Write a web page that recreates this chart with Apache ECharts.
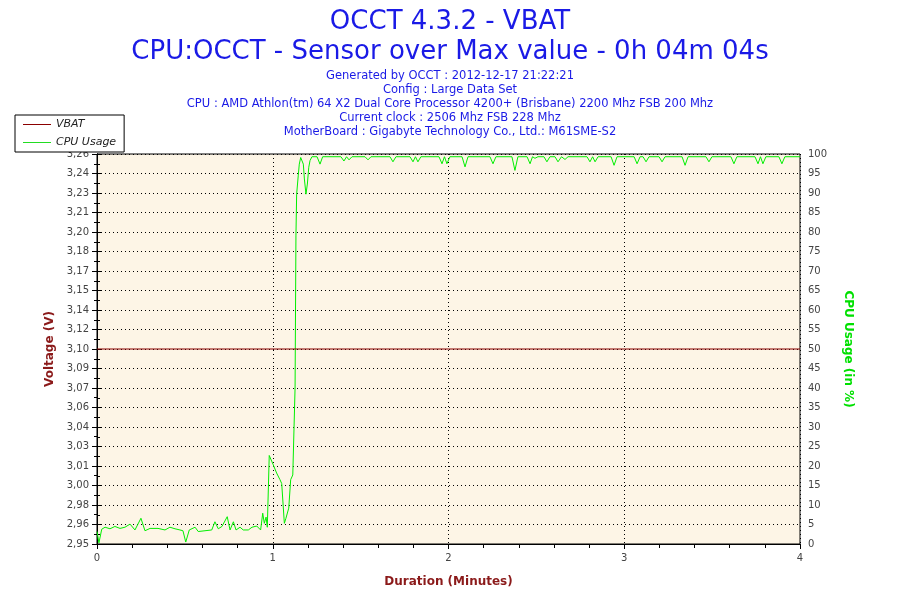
<!DOCTYPE html>
<html>
<head>
<meta charset="utf-8">
<title>OCCT 4.3.2 - VBAT</title>
<script src="https://cdn.jsdelivr.net/npm/echarts@6.0.0/dist/echarts.min.js"></script>
<style>
  html, body { margin: 0; padding: 0; background: #fff; }
  #chart { width: 900px; height: 600px; }
</style>
</head>
<body>
<div id="chart"></div>
<script>
'use strict';

// VBAT reading (constant over the run), axis spans VBAT -5% .. +5%
var vbatTime = [0, 4];
var vbatValue = [3.104, 3.104];
var voltMin = 2.9488;
var voltMax = 3.2592;

// CPU usage, time in minutes
var cpuTime = [
    0.000, 0.011, 0.027, 0.046, 0.074, 0.102, 0.131, 0.159, 0.188, 0.216,
    0.250, 0.273, 0.302, 0.347, 0.387, 0.415, 0.444, 0.472, 0.489, 0.505,
    0.525, 0.558, 0.576, 0.586, 0.653, 0.671, 0.690, 0.711, 0.741, 0.757,
    0.776, 0.791, 0.814, 0.832, 0.861, 0.882, 0.909, 0.931, 0.943, 0.952,
    0.962, 0.969, 0.980, 1.003, 1.022, 1.041, 1.051, 1.066, 1.075, 1.091,
    1.102, 1.114, 1.127, 1.132, 1.136, 1.145, 1.151, 1.159, 1.166, 1.174,
    1.180, 1.189, 1.197, 1.205, 1.212, 1.223, 1.252, 1.269, 1.284,
    1.388, 1.405, 1.420, 1.434, 1.451,
    1.525, 1.542, 1.559,
    1.667, 1.684, 1.701,
    1.781, 1.798, 1.812, 1.826, 1.843,
    1.946, 1.963, 1.977, 1.991, 2.008,
    2.077, 2.094, 2.111,
    2.236, 2.253, 2.270,
    2.361, 2.378, 2.395,
    2.447, 2.464, 2.478, 2.492, 2.509,
    2.543, 2.560, 2.577,
    2.606, 2.623, 2.643, 2.663, 2.680,
    2.788, 2.805, 2.820, 2.834, 2.851,
    2.925, 2.942, 2.959,
    3.056, 3.073, 3.090, 3.107, 3.124, 3.141,
    3.198, 3.215, 3.232,
    3.329, 3.346, 3.363,
    3.465, 3.482, 3.499,
    3.607, 3.624, 3.641,
    3.744, 3.761, 3.775, 3.789, 3.806,
    3.880, 3.897, 3.914,
    4.000
];
var cpuUsage = [
    3.2, 0.3, 3.8, 4.3, 3.9, 4.5, 4.0, 4.3, 5.1, 3.6,
    6.6, 3.4, 4.0, 4.0, 3.6, 4.3, 3.9, 3.6, 3.4, 0.5,
    3.6, 4.3, 3.2, 3.6, 3.6, 5.7, 3.9, 4.5, 7.0, 3.6,
    5.7, 3.6, 4.3, 3.6, 3.6, 4.3, 4.6, 3.6, 7.9, 5.3,
    6.9, 4.3, 22.7, 20.3, 18.2, 16.5, 15.5, 5.3, 6.6, 9.2,
    16.5, 17.7, 40.0, 79.0, 89.7, 94.4, 97.4, 99.1, 99.3, 97.4,
    93.6, 89.7, 92.3, 96.6, 98.3, 99.3, 99.3, 97.4, 99.3,
    99.3, 98.2, 99.3, 98.5, 99.3,
    99.3, 98.5, 99.3,
    99.3, 98.0, 99.3,
    99.3, 98.0, 99.3, 98.0, 99.3,
    99.3, 97.5, 99.3, 97.5, 99.3,
    99.3, 96.7, 99.3,
    99.3, 97.5, 99.3,
    99.3, 95.8, 99.3,
    99.3, 97.5, 99.3, 98.9, 99.3,
    99.3, 98.0, 99.3,
    99.3, 98.0, 99.3, 98.6, 99.3,
    99.3, 98.0, 99.3, 98.0, 99.3,
    99.3, 97.1, 99.3,
    99.3, 97.5, 99.3, 99.3, 98.0, 99.3,
    99.3, 98.0, 99.3,
    99.3, 97.1, 99.3,
    99.3, 98.0, 99.3,
    99.3, 97.5, 99.3,
    99.3, 97.5, 99.3, 97.5, 99.3,
    99.3, 97.5, 99.3,
    99.3
];

var titleLines = [
    'Generated by OCCT : 2012-12-17 21:22:21',
    'Config : Large Data Set',
    'CPU : AMD Athlon(tm) 64 X2 Dual Core Processor 4200+ (Brisbane) 2200 Mhz FSB 200 Mhz',
    'Current clock : 2506 Mhz FSB 228 Mhz',
    'MotherBoard : Gigabyte Technology Co., Ltd.: M61SME-S2'
];

(function () {
    var FONT = 'DejaVu Sans';
    var BLUE = '#1a1ae6';
    var chart = echarts.init(document.getElementById('chart'));

    function zip(xs, ys) {
        var out = [];
        for (var i = 0; i < xs.length; i++) out.push([xs[i], ys[i]]);
        return out;
    }

    var dotted = { color: '#000', width: 1, type: [1, 3] };

    var titles = [
        { text: 'OCCT 4.3.2 - VBAT', left: 'center', top: 4,
          textStyle: { fontFamily: FONT, fontSize: 26, fontWeight: 'normal', color: BLUE } },
        { text: 'CPU:OCCT - Sensor over Max value - 0h 04m 04s', left: 'center', top: 34,
          textStyle: { fontFamily: FONT, fontSize: 26, fontWeight: 'normal', color: BLUE } }
    ];
    titleLines.forEach(function (line, i) {
        titles.push({
            text: line, left: 'center', top: 70 + i * 14, padding: 0,
            textStyle: { fontFamily: FONT, fontSize: 11.5, fontWeight: 'normal', color: BLUE }
        });
    });

    var options = {
        animation: false,
        backgroundColor: '#fff',
        textStyle: { fontFamily: FONT },
        title: titles,
        legend: {
            orient: 'vertical',
            left: 15, top: 115,
            backgroundColor: '#fff',
            borderColor: '#000', borderWidth: 1, borderRadius: 0,
            padding: [4, 8, 4, 8],
            itemGap: 7,
            itemWidth: 28, itemHeight: 10,
            icon: 'path://M0,5 L28,5 L28,6 L0,6 Z',
            textStyle: { fontFamily: FONT, fontSize: 11, fontStyle: 'italic', color: '#222' },
            data: ['VBAT', 'CPU Usage'],
            z: 10
        },
        grid: {
            left: 97, right: 100, top: 154, bottom: 56,
            show: true, backgroundColor: '#fdf5e6', borderColor: '#000', borderWidth: 1
        },
        xAxis: {
            type: 'value', min: 0, max: 4, interval: 1,
            name: 'Duration (Minutes)', nameLocation: 'middle', nameGap: 32,
            nameTextStyle: { fontFamily: FONT, fontSize: 12, fontWeight: 'bold', color: '#8b1a1a' },
            axisLine: { lineStyle: { color: '#000' } },
            axisTick: { length: 5, lineStyle: { color: '#000' } },
            minorTick: { show: true, splitNumber: 5, length: 4, lineStyle: { color: '#000' } },
            axisLabel: { fontFamily: FONT, fontSize: 10, color: '#444', margin: 9 },
            splitLine: { show: true, lineStyle: dotted }
        },
        yAxis: [
            {
                type: 'value', position: 'right', min: 0, max: 100, interval: 5,
                name: 'CPU Usage (in %)', nameLocation: 'middle', nameGap: 42, nameRotate: -90,
                nameTextStyle: { fontFamily: FONT, fontSize: 12, fontWeight: 'bold', color: '#00e000' },
                axisLine: { show: true, lineStyle: { color: '#000' } },
                axisTick: { show: true, length: 5, lineStyle: { color: '#000' } },
                minorTick: { show: true, splitNumber: 2, length: 3, lineStyle: { color: '#000' } },
                axisLabel: { fontFamily: FONT, fontSize: 10, color: '#444', margin: 8 },
                splitLine: { show: true, lineStyle: dotted }
            },
            {
                type: 'value', position: 'left', min: voltMin, max: voltMax, alignTicks: true,
                name: 'Voltage (V)', nameLocation: 'middle', nameGap: 40, nameRotate: 90,
                nameTextStyle: { fontFamily: FONT, fontSize: 12, fontWeight: 'bold', color: '#8b1a1a' },
                axisLine: { show: true, lineStyle: { color: '#000' } },
                axisTick: { show: true, length: 5, lineStyle: { color: '#000' } },
                minorTick: { show: true, splitNumber: 2, length: 3, lineStyle: { color: '#000' } },
                axisLabel: {
                    fontFamily: FONT, fontSize: 10, color: '#444', margin: 8,
                    formatter: function (v) { return v.toFixed(2).replace('.', ','); }
                },
                splitLine: { show: false }
            }
        ],
        series: [
            {
                name: 'VBAT', type: 'line', yAxisIndex: 1,
                data: zip(vbatTime, vbatValue),
                showSymbol: false, symbol: 'none',
                lineStyle: { color: '#8b0000', width: 1 },
                itemStyle: { color: '#8b0000' },
                z: 3
            },
            {
                name: 'CPU Usage', type: 'line', yAxisIndex: 0,
                data: zip(cpuTime, cpuUsage),
                showSymbol: false, symbol: 'none',
                lineStyle: { color: '#00ee00', width: 1 },
                itemStyle: { color: '#22dd22' },
                z: 2
            }
        ]
    };

    chart.setOption(options);
})();
</script>
</body>
</html>
